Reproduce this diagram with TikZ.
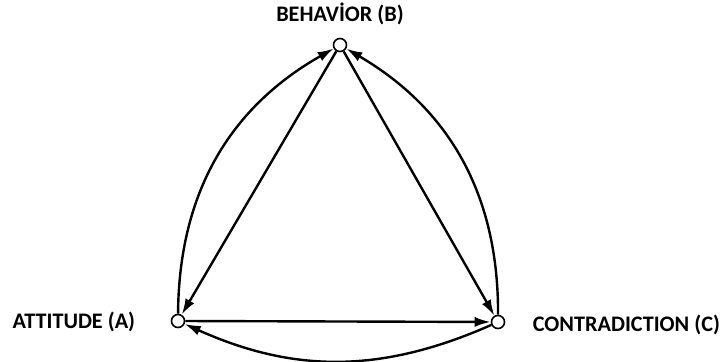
\documentclass[tikz,border=0pt]{standalone}
\usepackage{fontspec}
\setmainfont{Carlito}
\usetikzlibrary{arrows.meta}

\begin{document}
\begin{tikzpicture}[x=0.5pt,y=0.5pt,font=\bfseries\fontsize{11.1}{13}\selectfont,
    >={Latex[length=8pt,width=5pt]},line width=1.2pt,
    vertex/.style={circle,draw,fill=white,inner sep=0pt,minimum size=6.5pt,line width=0.8pt}]
  \useasboundingbox (0,0) rectangle (724,362);
  % ---------------- corners ----------------
  \node[vertex] (b) at (340,317) {};
  \node[vertex] (a) at (178,41) {};
  \node[vertex] (c) at (498,40) {};
  \node (bl) at (340,348) {BEHAVİOR (B)};
  \node[anchor=east] (al) at (143,40) {ATTITUDE (A)};
  \node[anchor=west] (cl) at (525,37) {CONTRADICTION (C)};
  % ---------------- links ----------------
  \draw[->] (b) -- (a);
  \draw[->] (b) -- (c);
  \draw[->] (a) -- (c);
  \draw[->] (a) to[bend left=30] (b);
  \draw[->] (c) to[bend right=30] (b);
  \draw[->] (c) to[bend left=24] (a);
\end{tikzpicture}
\end{document}
